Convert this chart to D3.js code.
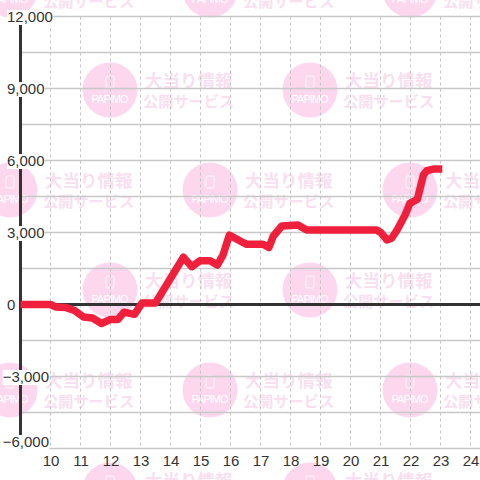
<!DOCTYPE html>
<html><head><meta charset="utf-8">
<script src="https://cdn.jsdelivr.net/npm/d3@7"></script>
<style>html,body{margin:0;padding:0;background:#fff}svg{display:block}</style>
</head><body><svg id="c" width="480" height="480"></svg>
<script>
const hours=[9,10,10.17,10.5,10.8,11.1,11.4,11.7,12,12.25,12.45,12.8,13.05,13.5,14.43,14.71,14.98,15.32,15.56,15.75,15.96,16.43,16.54,17.08,17.28,17.43,17.71,18.25,18.54,20.87,21.02,21.21,21.37,21.54,21.82,21.98,22.23,22.43,22.54,22.76,23.06];
const diff=[0,0,-100,-120,-250,-520,-560,-790,-620,-620,-320,-410,60,60,1967,1575,1825,1825,1645,2060,2895,2575,2510,2510,2375,2855,3270,3310,3105,3105,2990,2690,2760,3075,3730,4215,4385,5395,5575,5645,5645];
const yTicks=[12000,9000,6000,3000,0,-3000,-6000];
const yGrid=[12000,10500,9000,7500,6000,4500,3000,1500,0,-1500,-3000,-4500,-6000];
const xTicks=[10,11,12,13,14,15,16,17,18,19,20,21,22,23,24];
const marks=[[110,90],[310,90],[10,-10],[210,-10],[410,-10],[10,190],[210,190],[410,190],[110,290],[310,290],[10,390],[210,390],[410,390],[110,490],[310,490]];
const wmTitle="大当り情報",wmSub="公開サービス",wmLogo="PAPIMO";

const x=d3.scaleLinear().domain([9,24]).range([20.5,470.5]);
const y=d3.scaleLinear().domain([-6000,12000]).range([448.5,16.5]);
const svg=d3.select("#c");
const font="'Liberation Sans',Arial,sans-serif", cjk="'Noto Sans CJK JP',sans-serif";

const wm=svg.append("g").selectAll("g").data(marks).join("g").attr("transform",d=>`translate(${d[0]},${d[1]})`);
wm.append("circle").attr("r",27.5).attr("fill","#fcd7ee");
wm.append("rect").attr("x",-4).attr("y",-14).attr("width",8).attr("height",12).attr("rx",1.5).attr("fill","none").attr("stroke","#fff").attr("stroke-width",0.8);
wm.append("text").attr("x",-18.5).attr("y",13).attr("fill","#fff").attr("font-family",font).attr("font-size",11).attr("textLength",37).attr("lengthAdjust","spacing").text(wmLogo);
wm.append("text").attr("x",35).attr("y",-3).attr("fill","#f9e0f0").attr("font-family",cjk).attr("font-weight",700).attr("font-size",17.5).text(wmTitle);
wm.append("text").attr("x",33).attr("y",16.5).attr("fill","#f9e0f0").attr("font-family",cjk).attr("font-weight",700).attr("font-size",15.2).text(wmSub);

svg.append("g").selectAll("line").data(xTicks).join("line")
 .attr("x1",d=>x(d)).attr("x2",d=>x(d)).attr("y1",y(12000)).attr("y2",y(-6000))
 .attr("stroke","#c4c4c4").attr("stroke-width",1).attr("stroke-dasharray","3,3");
svg.append("g").selectAll("line").data(yGrid).join("line")
 .attr("x1",20).attr("x2",480).attr("y1",d=>y(d)).attr("y2",d=>y(d))
 .attr("stroke","#c8c8c8").attr("stroke-width",1.3);
svg.append("line").attr("x1",20).attr("x2",480).attr("y1",y(0)).attr("y2",y(0)).attr("stroke","#333").attr("stroke-width",3);
svg.append("line").attr("x1",x(9)).attr("x2",x(9)).attr("y1",y(12000)).attr("y2",y(-6000)).attr("stroke","#333").attr("stroke-width",3);

const yl=svg.append("g").selectAll("g").data(yTicks).join("g")
 .attr("transform",d=>`translate(${d<0?2.7:7},${d===-6000?447:y(d)+5.5})`);
yl.append("text").attr("fill","#333").attr("font-family",font).attr("font-size",15).text(d=>d3.format(",")(d));
yl.each(function(){const g=d3.select(this),b=g.select("text").node().getBBox();
 g.insert("rect","text").attr("x",b.x).attr("y",-12).attr("width",b.width+0.5).attr("height",15).attr("fill","#fff");});

svg.append("g").selectAll("text").data(xTicks).join("text")
 .attr("x",d=>x(d)+0.5).attr("y",466).attr("text-anchor","middle").attr("fill","#333").attr("font-family",font).attr("font-size",15).text(d=>d);

svg.append("path").datum(hours.map((h,i)=>[h,diff[i]]))
 .attr("d",d3.line().x(d=>x(d[0])).y(d=>y(d[1])))
 .attr("fill","none").attr("stroke","#f0203c").attr("stroke-width",7.5).attr("stroke-linejoin","round");
</script></body></html>
